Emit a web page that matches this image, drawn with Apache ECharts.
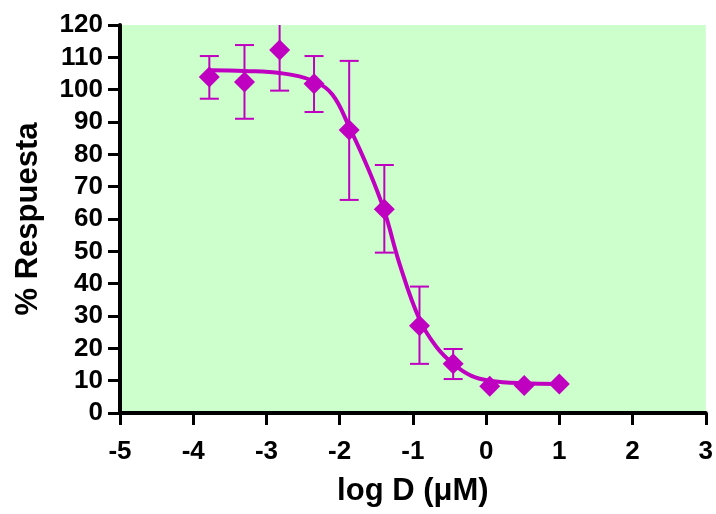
<!DOCTYPE html>
<html>
<head>
<meta charset="utf-8">
<title>Curva dosis-respuesta</title>
<script src="https://cdn.jsdelivr.net/npm/echarts@6/dist/echarts.min.js"></script>
<style>
  html, body { margin: 0; padding: 0; background: #fff; }
  #chart { width: 716px; height: 514px; }
</style>
</head>
<body>
<div id="chart"></div>
<script>
// mean points
const logD = [-3.78, -3.3, -2.82, -2.35, -1.87, -1.39, -0.91, -0.45, 0.05, 0.52, 1.0];
const resp = [103.9, 102.4, 112.3, 101.8, 87.5, 63.0, 27.0, 15.2, 8.3, 8.5, 9.0];
// error bars (null where they hide behind the marker)
const errHigh = [110.4, 113.8, 125, 110.4, 108.9, 76.7, 39.1, 19.8, null, null, null];
const errLow = [97.2, 91.0, 99.7, 93.1, 65.9, 49.6, 15.2, 10.5, null, null, null];

// fitted curve
const curveX = [-3.78, -3.3, -2.8, -2.35, -2.1, -1.87, -1.6, -1.39, -1.18, -0.91, -0.68, -0.44, -0.2, 0.05, 0.5, 1.0];
const curveY = [106.0, 105.8, 105.1, 102.6, 98.5, 88.5, 75.0, 62.5, 46.0, 29.0, 20.5, 15.0, 11.5, 10.0, 9.2, 9.0];

const xTicks = [-5, -4, -3, -2, -1, 0, 1, 2, 3];
const yTicks = [0, 10, 20, 30, 40, 50, 60, 70, 80, 90, 100, 110, 120];

const magenta = '#c000c0';
const labelFont = { fontFamily: 'Liberation Sans', fontWeight: 'bold', color: '#000' };

const chart = echarts.init(document.getElementById('chart'));

const barData = [];
logD.forEach((x, i) => {
  if (errHigh[i] != null) barData.push([x, errLow[i], errHigh[i]]);
});

chart.setOption({
  animation: false,
  grid: {
    left: 120, right: 10, top: 25, bottom: 101,
    show: true, backgroundColor: '#ccffcc', borderWidth: 0
  },
  xAxis: {
    type: 'value',
    min: xTicks[0], max: xTicks[xTicks.length - 1], interval: 1,
    name: 'log D (μM)', nameLocation: 'middle', nameGap: 63,
    nameTextStyle: Object.assign({ fontSize: 31 }, labelFont),
    axisLine: { onZero: false, lineStyle: { color: '#000', width: 4 } },
    axisTick: { length: 12, lineStyle: { color: '#000', width: 3 } },
    axisLabel: Object.assign({ fontSize: 26, margin: 26 }, labelFont),
    splitLine: { show: false }
  },
  yAxis: {
    type: 'value',
    min: yTicks[0], max: yTicks[yTicks.length - 1], interval: 10,
    name: '% Respuesta', nameLocation: 'middle', nameGap: 76,
    nameTextStyle: Object.assign({ fontSize: 31 }, labelFont),
    axisLine: { show: true, onZero: false, lineStyle: { color: '#000', width: 4 } },
    axisTick: { show: true, length: 12, lineStyle: { color: '#000', width: 3 } },
    axisLabel: Object.assign({ fontSize: 26, margin: 17 }, labelFont),
    splitLine: { show: false }
  },
  series: [
    {
      // error bars
      type: 'custom',
      clip: true,
      data: barData,
      renderItem: function (params, api) {
        const lo = api.coord([api.value(0), api.value(1)]);
        const hi = api.coord([api.value(0), api.value(2)]);
        const half = 9.5;
        const style = { stroke: magenta, lineWidth: 2, fill: null };
        return {
          type: 'group',
          children: [
            { type: 'line', shape: { x1: lo[0], y1: lo[1], x2: hi[0], y2: hi[1] }, style: style },
            { type: 'line', shape: { x1: hi[0] - half, y1: hi[1], x2: hi[0] + half, y2: hi[1] }, style: style },
            { type: 'line', shape: { x1: lo[0] - half, y1: lo[1], x2: lo[0] + half, y2: lo[1] }, style: style }
          ]
        };
      },
      z: 2
    },
    {
      type: 'line',
      data: curveX.map((x, i) => [x, curveY[i]]),
      smooth: 0.4,
      showSymbol: false,
      lineStyle: { color: magenta, width: 4 },
      z: 3
    },
    {
      type: 'scatter',
      data: logD.map((x, i) => [x, resp[i]]),
      symbol: 'diamond',
      symbolSize: [21, 21],
      itemStyle: { color: magenta, opacity: 1 },
      z: 4
    }
  ]
});
</script>
</body>
</html>
